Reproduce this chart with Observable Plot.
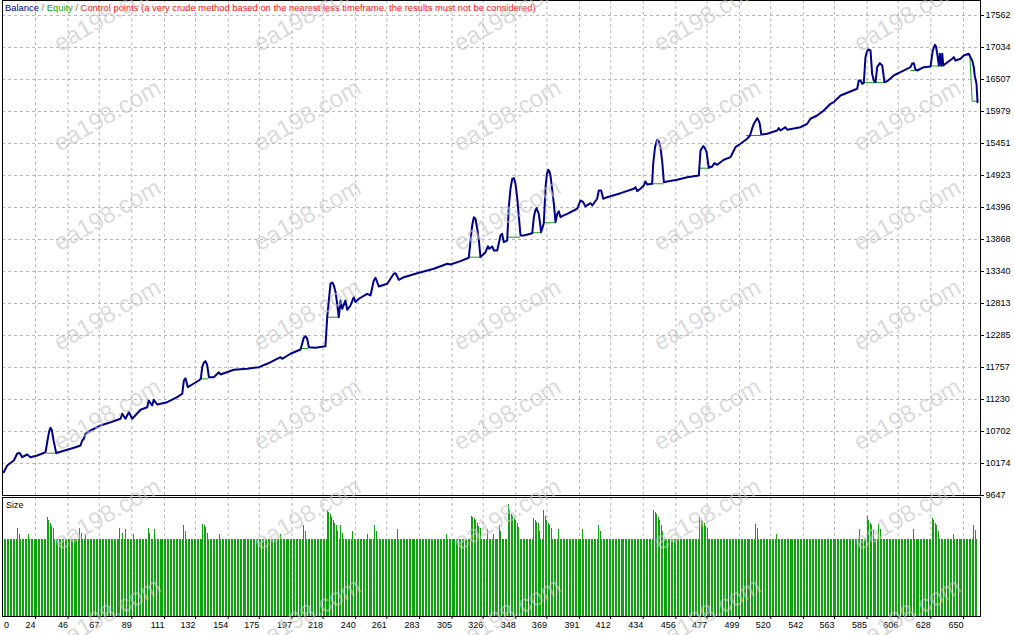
<!DOCTYPE html>
<html><head><meta charset="utf-8">
<script src="https://cdn.jsdelivr.net/npm/d3@7"></script>
<script src="https://cdn.jsdelivr.net/npm/@observablehq/plot@0.6"></script>
<style>
html,body{margin:0;padding:0;background:#fff;}
#wrap{position:relative;width:1014px;height:635px;overflow:hidden;font-family:"Liberation Sans",Arial,sans-serif;}
#main{position:absolute;left:0;top:0;}
#size{position:absolute;left:0;top:497px;}
#title{position:absolute;left:5px;top:3px;font-size:9.4px;line-height:9px;white-space:nowrap;}
#sizeLabel{position:absolute;left:6px;top:501px;font-size:9px;line-height:9px;color:#000;}
#wm{position:absolute;left:0;top:0;pointer-events:none;}
</style></head><body>
<div id="wrap">
  <div id="main"></div>
  <div id="size"></div>
  <div id="title"><span style="color:#000080">Balance</span><span style="color:#8a7a3a"> / </span><span style="color:#10a010">Equity</span><span style="color:#8a7a3a"> / </span><span style="color:#ff1010">Control points (a very crude method based on the nearest less timeframe, the results must not be considered)</span></div>
  <div id="sizeLabel">Size</div>
</div>
<script>
// ---- data ----
const yTicks = [9647,10174,10702,11230,11757,12285,12813,13340,13868,14396,14923,15451,15979,16507,17034,17562];
const xTickLabels = [0,24,46,67,89,111,132,154,175,197,218,240,261,283,305,326,348,369,391,412,434,456,477,499,520,542,563,585,606,628,650];

// balance curve vertices [trade, balance]
const balancePoints = [
[2.6,10031],[4.9,10142],[9.4,10224],[11.7,10340],[13.4,10348],[15.0,10279],[18.4,10323],[20.6,10279],[25.2,10307],[30.8,10361],
[32.1,10554],[33.2,10700],[34.1,10763],[35.0,10730],[36.2,10554],[38.0,10345],[39.7,10361],
[45.4,10401],[51.0,10443],[54.4,10472],[55.5,10554],[56.6,10582],[57.7,10664],[61.1,10719],[67.9,10801],[74.6,10856],
[81.4,10912],[82.5,10994],[84.7,10912],[87.0,11021],[89.2,10912],[94.9,11060],[99.4,11103],[100.4,11214],[102.7,11131],[103.8,11225],[106.1,11148],
[112.9,11186],[119.6,11268],[123.0,11324],[124.1,11543],[125.2,11581],[126.8,11433],[128.6,11461],[134.2,11543],
[135.5,11571],[136.5,11763],[137.6,11840],[138.7,11862],[139.8,11800],[141.0,11598],[144.3,11598],[147.7,11680],[148.8,11642],
[157.8,11720],[166.8,11736],[174.7,11763],[180.3,11819],[189.3,11928],[190.4,11901],[196.0,11984],[202.8,12055],
[205.0,12248],[206.2,12274],[207.3,12230],[208.4,12093],[212.9,12083],[219.6,12109],
[220.8,12587],[221.9,12863],[223.0,13138],[224.2,13160],[225.3,13110],[226.5,12990],[227.5,12808],[228.6,12587],
[229.8,12863],[230.9,12726],[233.1,12863],[234.3,12709],[236.5,12780],[238.7,12917],[239.9,12835],[242.1,12891],[247.8,12973],[250.0,12945],
[252.2,13192],[253.4,13237],[255.6,13093],[261.3,13138],[265.7,13303],[266.9,13313],[269.1,13204],[272.5,13247],[281.5,13313],
[292.7,13385],[301.8,13468],[303.9,13456],[310.7,13511],[316.3,13567],
[317.5,13852],[318.6,14100],[319.7,14236],[320.8,14210],[322.0,14050],[323.1,13852],[324.2,13577],
[327.6,13659],[329.2,13758],[330.1,13715],[332.1,13753],[333.2,13687],[335.5,13687],[337.7,13934],[338.8,13962],[339.9,13824],[342.2,13852],
[343.3,14401],[344.4,14700],[345.6,14869],[346.7,14880],[347.8,14787],[349.0,14550],[350.1,14236],[351.2,13934],[353.4,13934],[359.1,13972],
[360.2,14236],[361.1,14340],[362.0,14385],[363.5,14292],[364.3,14150],[365.1,13989],[366.9,14137],
[368.1,14731],[369.0,14950],[369.9,15018],[370.6,15000],[371.4,14924],[372.5,14700],[373.7,14457],[374.8,14154],
[376.0,14292],[377.0,14335],[378.2,14236],[379.3,14253],[382.7,14292],[389.4,14375],[391.7,14512],[393.5,14484],[395.0,14413],
[398.4,14467],[399.6,14429],[402.9,14540],[404.0,14677],[405.6,14677],[407.0,14540],[409.7,14566],[418.7,14632],
[427.6,14705],[428.8,14731],[429.9,14665],[432.1,14705],[434.4,14759],[435.5,14825],[436.7,14775],[440.0,14787],
[440.7,15117],[442.0,15400],[443.4,15513],[444.5,15490],[445.6,15391],[446.8,15150],[447.9,14813],
[450.1,14825],[456.9,14853],[463.6,14896],[471.5,14924],
[472.6,15336],[474.4,15407],[475.5,15380],[476.7,15308],[478.2,15051],
[480.5,15072],[482.0,15127],[483.9,15100],[488.3,15183],[492.9,15226],[494.0,15282],[496.2,15391],[499.6,15447],[504.1,15529],[506.0,15583],
[507.5,15700],[508.6,15776],[510.9,15869],[512.0,15820],[512.6,15776],[513.6,15600],
[517.6,15611],[524.3,15666],[525.4,15704],[526.6,15666],[529.9,15720],[531.1,15677],[540.1,15720],[542.3,15748],[544.6,15776],
[546.8,15859],[551.3,15913],[555.8,15996],[560.3,16106],[562.5,16133],[564.8,16189],[567.1,16243],[571.6,16288],[578.3,16354],
[579.4,16490],[580.6,16490],[581.7,16436],[582.8,16452],
[583.9,16875],[584.8,16960],[585.8,17002],[587.3,16985],[588.4,16601],[589.5,16490],[590.7,16462],
[591.8,16710],[593.6,16776],[595.2,16738],[596.7,16462],
[598.6,16479],[603.0,16573],[605.3,16601],[607.5,16627],[614.3,16710],
[615.4,16771],[616.5,16776],[617.6,16672],[618.8,16655],[623.3,16710],[627.8,16721],
[629.3,16985],[630.7,17079],[631.5,17050],[632.3,16931],[633.4,16738],[634.1,16931],[635.0,16738],[635.7,16931],[636.4,16738],
[637.9,16766],[642.4,16848],[643.5,16875],[644.6,16820],[648.0,16848],[650.2,16903],[653.6,16931],[654.7,16875],
[655.9,16820],[657.0,16710],[657.6,16573],[658.8,16436],[659.5,16133]
];

// equity where it separates from balance: [fromTrade, toTrade, equity]
const equityFlats = [
[31.9,38.0,10345],[135.5,141.0,11571],[202.8,208.4,12071],[220.8,228.6,12587],[316.3,324.2,13577],
[342.2,351.2,13906],[359.1,365.1,13979],[366.9,374.8,14144],[440.0,447.9,14787],[471.5,478.2,15044],
[503.7,513.6,15583],[582.8,597.0,16455],[614.5,618.8,16655],[627.8,636.4,16729]
];
// equity at the end of the test [trade, equity]
const equityTail = [[654.3,16903],[655.9,16149],[659.5,16149]];

// lot size per trade: most trades at the baseline, larger lots listed
const sizeFirstTrade = 2, sizeLastTrade = 659;
const sizeBaseline = 0.10;
const sizeSpikes = [
[12,0.114],[13,0.107],[19,0.107],
[32,0.129],[33,0.125],[34,0.121],[35,0.117],[36,0.114],
[54,0.114],[55,0.108],[58,0.107],
[81,0.114],[83,0.108],[85,0.113],[90,0.107],
[100,0.114],[101,0.108],[104,0.113],
[124,0.118],[125,0.110],
[137,0.120],[138,0.118],[139,0.116],[140,0.108],
[148,0.107],[189,0.107],
[205,0.118],[206,0.110],
[221,0.138],[222,0.135],[223,0.132],[224,0.128],[225,0.125],[226,0.121],[227,0.118],[228,0.110],
[230,0.118],[231,0.108],[238,0.111],[248,0.107],
[253,0.118],[254,0.110],[268,0.113],[301,0.107],
[318,0.130],[319,0.128],[320,0.127],[321,0.124],[322,0.121],[323,0.117],[324,0.114],
[329,0.113],[333,0.107],[337,0.118],[338,0.110],
[343,0.145],[344,0.138],[345,0.132],[346,0.130],[347,0.127],[348,0.124],[349,0.121],[350,0.115],
[360,0.127],[361,0.124],[362,0.122],[363,0.121],[364,0.110],
[367,0.138],[368,0.130],[369,0.125],[370,0.121],[371,0.118],[372,0.114],
[377,0.113],[393,0.113],[404,0.118],[405,0.110],
[441,0.138],[442,0.135],[443,0.132],[444,0.128],[445,0.125],[446,0.118],[447,0.110],
[472,0.129],[473,0.125],[474,0.123],[475,0.121],[476,0.117],[477,0.114],
[510,0.120],[511,0.114],[524,0.107],
[580,0.113],[585,0.130],[586,0.125],[587,0.121],[588,0.118],[589,0.112],
[593,0.120],[594,0.113],[616,0.113],
[629,0.127],[630,0.124],[631,0.121],[632,0.118],[633,0.110],
[643,0.107],[657,0.118],[658,0.112]
];

// ---- tables built from the arrays ----
const spikeMap = new Map(sizeSpikes);
const sizeTable = d3.range(sizeFirstTrade, sizeLastTrade + 1).map(t => ({trade: t, lot: spikeMap.has(t) ? spikeMap.get(t) : sizeBaseline}));
const gridTicks = xTickLabels.filter(d => d > 0);

const X_DOMAIN = [1.75, 661.5];
const font = "Liberation Sans, Arial, sans-serif";
const gridStyle = {stroke: "#b8b8b8", strokeOpacity: 1, strokeDasharray: "3,3", strokeWidth: 1};

const mainPlot = Plot.plot({
  width: 1014, height: 497,
  marginLeft: 2, marginRight: 34, marginTop: 0, marginBottom: 2,
  style: {fontFamily: font, fontSize: "9px", background: "transparent", color: "#000", overflow: "visible"},
  x: {domain: X_DOMAIN, axis: null},
  y: {domain: [9647, 17809], axis: null},
  marks: [
    Plot.gridX(gridTicks, gridStyle),
    Plot.gridY(yTicks.slice(1), gridStyle),
    Plot.ruleY(equityFlats, {x1: d => d[0], x2: d => d[1], y: d => d[2], stroke: "#1a9a1a", strokeWidth: 1}),
    Plot.line(equityTail, {x: d => d[0], y: d => d[1], stroke: "#1a9a1a", strokeWidth: 1}),
    Plot.line(balancePoints, {x: d => d[0], y: d => d[1], stroke: "#00008c", strokeWidth: 2, strokeLinejoin: "round"}),
    Plot.frame({stroke: "#000", strokeWidth: 1}),
    Plot.axisY(yTicks, {anchor: "right", label: null, tickSize: 3, tickPadding: 2, tickFormat: "d", fontSize: 9, stroke: "#000", fill: "#000"})
  ]
});
document.getElementById("main").appendChild(mainPlot);

const sizePlot = Plot.plot({
  width: 1014, height: 138,
  marginLeft: 2, marginRight: 34, marginTop: 0, marginBottom: 19,
  style: {fontFamily: font, fontSize: "9px", background: "transparent", color: "#000", overflow: "visible"},
  x: {domain: X_DOMAIN, axis: null, label: null},
  y: {domain: [0, 0.1545], axis: null},
  marks: [
    Plot.gridX(gridTicks, gridStyle),
    Plot.ruleX(sizeTable, {x: "trade", y1: 0, y2: "lot", stroke: "#0ea30e", strokeWidth: 1, shapeRendering: "crispEdges"}),
    Plot.frame({stroke: "#000", strokeWidth: 1}),
    Plot.axisX(gridTicks, {anchor: "bottom", label: null, tickSize: 3, tickPadding: 2, textAnchor: "end", tickFormat: "d", fontSize: 9, fill: "#000"}),
    Plot.axisX([0], {anchor: "bottom", label: null, tickSize: 0, tickPadding: 5, textAnchor: "start", dx: 4, tickFormat: "d", fontSize: 9, fill: "#000"})
  ]
});
document.getElementById("size").appendChild(sizePlot);

// watermark overlay (decoration of the source image)
const wm = d3.select("#wrap").append("svg").attr("id", "wm").attr("width", 1014).attr("height", 635);
const wmCols = d3.range(5), wmRows = d3.range(7);
for (const r of wmRows) for (const c of wmCols) {
  wm.append("text")
    .attr("transform", `translate(${108 + 200 * c},${17 + 99.7 * r}) rotate(-30)`)
    .attr("text-anchor", "middle").attr("dominant-baseline", "middle")
    .attr("font-family", font).attr("font-size", 24)
    .attr("fill", "#c4c4c4").attr("opacity", 0.6)
    .text("ea198.com");
}
</script>
</body></html>
